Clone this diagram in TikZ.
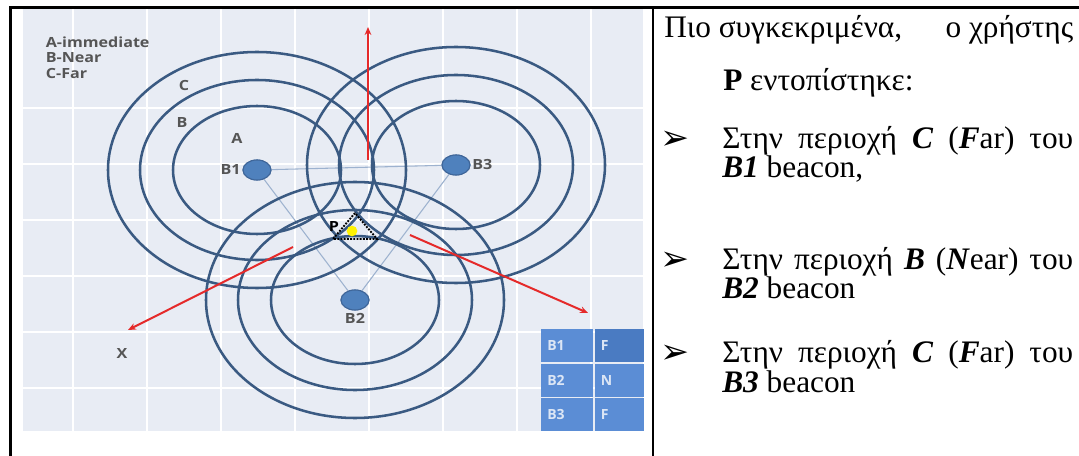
\documentclass[tikz,border=0pt]{standalone}
\usepackage{fontspec}
\setmainfont{Liberation Serif}
\newfontfamily\chartfont{Open Sans}
\newfontfamily\dingfont{DejaVu Sans}
\usetikzlibrary{arrows.meta,shapes.geometric,positioning}
\definecolor{chartbg}{HTML}{E8ECF4}
\definecolor{ringblue}{HTML}{3A5A82}
\definecolor{beaconfill}{HTML}{4F81BD}
\definecolor{beacondraw}{HTML}{3F6699}
\definecolor{linkblue}{HTML}{9DB2CF}
\definecolor{arrowred}{HTML}{E52A2A}
\definecolor{cellblue}{HTML}{5B8DD5}
\definecolor{celldark}{HTML}{4A7BC2}
\definecolor{celltext}{HTML}{DCE6F5}
\definecolor{labelgray}{HTML}{555555}

\begin{document}
\begin{tikzpicture}[
        x=0.75pt, y=-0.75pt,
        >=Stealth,
        ring/.style={draw=ringblue, line width=1.9pt},
        beacon/.style={ellipse, fill=beaconfill, draw=beacondraw, line width=0.8pt, minimum width=21pt, minimum height=15pt, inner sep=0pt},
        link/.style={draw=linkblue, line width=0.8pt},
        move/.style={draw=arrowred, line width=1.5pt, arrows={-Stealth[length=6pt, width=5pt]}},
        lbl/.style={font=\chartfont\bfseries\fontsize{10.5}{12}\selectfont, text=labelgray, inner sep=1pt, xscale=1.15},
        cell/.style={fill=cellblue, minimum height=24.75pt, inner xsep=4.5pt, inner ysep=0pt, text=celltext, font=\chartfont\bfseries\fontsize{10.5}{12}\selectfont, align=left},
        txt/.style={anchor=base west, inner sep=0pt, font=\fontsize{23.5}{27}\selectfont},
        bulletmark/.style={font=\dingfont\fontsize{26}{28}\selectfont, inner sep=0pt},
        frame/.style={line width=2pt}
    ]
    \useasboundingbox (0,0) rectangle (1079,456);

    % chart background and grid
    \fill[chartbg] (23,9) rectangle (643,431);
    \foreach \gx in {73,147,221,295,369,443,517,591}
        \draw[white, line width=1.1pt] (\gx,9) -- (\gx,431);
    \foreach \gy in {108,164,220,276,332,388}
        \draw[white, line width=1.1pt] (23,\gy) -- (643,\gy);

    % beacons
    \node[beacon] (b1) at (257,170) {};
    \node[beacon] (b3) at (456,165) {};
    \node[beacon] (b2) at (355,300) {};

    \draw[link] (b1) -- (b3);
    \draw[link] (b1) -- (b2);
    \draw[link] (b3) -- (b2);

    % ranges A, B, C
    \foreach \bc in {b1,b2,b3} {
        \draw[ring] (\bc.center) ellipse [x radius=111.75pt, y radius=88.5pt];
        \draw[ring] (\bc.center) ellipse [x radius=87.75pt, y radius=67.5pt];
        \draw[ring] (\bc.center) ellipse [x radius=63pt, y radius=48pt];
    }
    \node[beacon] at (b1) {};
    \node[beacon] at (b3) {};
    \node[beacon] at (b2) {};

    % user position
    \draw[densely dotted, line width=1.4pt] (355,213) -- (333,239) -- (377,239) -- cycle;
    \fill[yellow] (352,231) circle [radius=4pt];
    \node[lbl, text=black] (pos) at (334,227) {P};

    % movement
    \coordinate (up0) at (368,160);
    \coordinate (up1) at (368,27);
    \coordinate (lf0) at (293,247);
    \coordinate (lf1) at (128,330);
    \coordinate (rt0) at (410,235);
    \coordinate (rt1) at (588,313);
    \draw[move] (up0) -- (up1);
    \draw[move] (lf0) -- (lf1);
    \draw[move] (rt0) -- (rt1);

    % labels
    \node[lbl, anchor=west] (legA) at (44,42) {A-immediate};
    \node[lbl, anchor=west] (legB) at (44,58) {B-Near};
    \node[lbl, anchor=west] (legC) at (44,74) {C-Far};
    \node[lbl] (ringC) at (184,86) {C};
    \node[lbl] (ringB) at (182,123) {B};
    \node[lbl] (ringA) at (237,138) {A};
    \node[lbl, left=0pt of b1] (nb1) {B1};
    \node[lbl, right=0pt of b3] (nb3) {B3};
    \node[lbl, below=1pt of b2] (nb2) {B2};
    \node[lbl] (xmark) at (122,354) {X};

    % table
    \node[cell, anchor=north west, text width=30pt] (t11) at (541,329) {B1};
    \node[cell, fill=celldark, right=0.75pt of t11, text width=27.75pt] (t12) {F};
    \node[cell, below=0.75pt of t11, text width=30pt] (t21) {B2};
    \node[cell, right=0.75pt of t21, text width=27.75pt] (t22) {N};
    \node[cell, below=0.75pt of t21, text width=30pt] (t31) {B3};
    \node[cell, right=0.75pt of t31, text width=27.75pt] (t32) {F};

    % frame
    \draw[frame] (10.5,456) -- (10.5,7.5) -- (1079,7.5);
    \draw[frame] (653,7.5) -- (653,456);

    % text
    \node[txt] (line1) at (664,38) {\makebox[306.75pt][s]{Πιο συγκεκριμένα,\hfill ο χρήστης}};
    \node[txt] (line2) at (723,91) {\textbf{P} εντοπίστηκε:};
    \node[bulletmark] (mk1) at (675,140) {➢};
    \node[txt] (c1a) at (722,149) {\makebox[263.25pt][s]{Στην περιοχή \textbf{\textit{C}} (\textbf{\textit{F}}ar) του}};
    \node[txt] (c1b) at (722,178) {\textbf{\textit{B1}} beacon,};
    \node[bulletmark] (mk2) at (675,261) {➢};
    \node[txt] (c2a) at (722,270) {\makebox[263.25pt][s]{Στην περιοχή \textbf{\textit{B}} (\textbf{\textit{N}}ear) του}};
    \node[txt] (c2b) at (722,299) {\textbf{\textit{B2}} beacon};
    \node[bulletmark] (mk3) at (675,354) {➢};
    \node[txt] (c3a) at (722,363) {\makebox[263.25pt][s]{Στην περιοχή \textbf{\textit{C}} (\textbf{\textit{F}}ar) του}};
    \node[txt] (c3b) at (722,392) {\textbf{\textit{B3}} beacon};
\end{tikzpicture}
\end{document}
